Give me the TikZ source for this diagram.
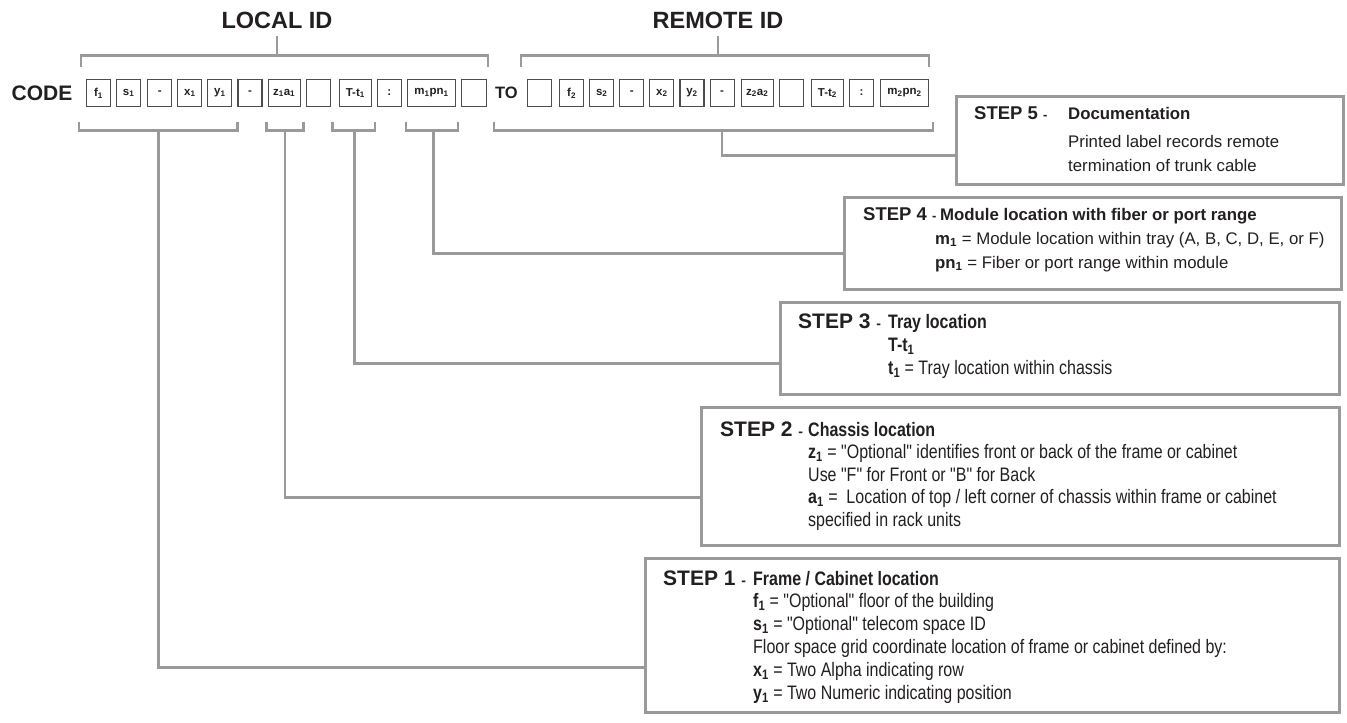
\documentclass[tikz,border=0pt]{standalone}
\usepackage{fontspec}
\setmainfont{Liberation Sans}
\newfontfamily\narrowfont{Liberation Sans}[FakeStretch=0.82]
\definecolor{ink}{HTML}{231F20}
\definecolor{lgray}{HTML}{9A9A9A}
\definecolor{dgray}{HTML}{4D4D4D}
\usepackage{tikz}
\usetikzlibrary{calc}
\usetikzlibrary{positioning}
\newcommand{\cvar}[2]{\textbf{#1\textsubscript{#2}}}

\begin{document}
\begin{tikzpicture}[
    x=1pt, y=1pt,
    every node/.style={text=ink, inner sep=0pt},
    cbox/.style={draw=dgray, line width=1.1pt, minimum width=24pt, minimum height=27pt, font=\fontsize{11.5}{12}\selectfont\bfseries},
    wbox/.style={cbox, minimum width=32pt},
    xbox/.style={cbox, minimum width=48pt},
    brk/.style={draw=lgray, line width=2.6pt},
    conn/.style={draw=lgray, line width=2.6pt},
    stepbox/.style={draw=lgray, line width=2.6pt, anchor=north west},
    idlbl/.style={font=\fontsize{23.5}{24}\selectfont\bfseries},
    steptag/.style={anchor=base west, font=\bfseries},
    bodyw/.style={anchor=base west, font=\fontsize{16.8}{19}\selectfont},
    bodyn/.style={anchor=base west, font=\narrowfont\fontsize{19.5}{20}\selectfont},
  ]
    \useasboundingbox (0,0) rectangle (1347,-723);

    \node[font=\fontsize{21}{22}\selectfont\bfseries] (code) at (42,-93) {CODE};
    \node[cbox] (f1) at (98.5,-93) {f\textsubscript{1}};
    \node[cbox, right=5pt of f1] (s1) {s\textsubscript{1}};
    \node[cbox, right=6pt of s1] (d1) {-};
    \node[cbox, right=5pt of d1] (x1) {x\textsubscript{1}};
    \node[cbox, right=5pt of x1] (y1) {y\textsubscript{1}};
    \node[cbox, right=5pt of y1] (d2) {-};
    \node[wbox, right=5pt of d2] (za1) {z\textsubscript{1}a\textsubscript{1}};
    \node[cbox, right=5pt of za1] (e1) {};
    \node[wbox, right=8pt of e1] (tt1) {T-t\textsubscript{1}};
    \node[cbox, right=5pt of tt1] (c1) {:};
    \node[xbox, right=5pt of c1] (mp1) {m\textsubscript{1}pn\textsubscript{1}};
    \node[cbox, minimum width=25pt, right=5pt of mp1] (e2) {};

    \node[font=\fontsize{16.5}{17}\selectfont\bfseries] (to) at (506.5,-93) {TO};
    \node[cbox] (e3) at (539.5,-93) {};
    \node[cbox, right=7pt of e3] (f2) {f\textsubscript{2}};
    \node[cbox, right=5pt of f2] (s2) {s\textsubscript{2}};
    \node[cbox, right=5pt of s2] (d3) {-};
    \node[cbox, right=5pt of d3] (x2) {x\textsubscript{2}};
    \node[cbox, right=5pt of x2] (y2) {y\textsubscript{2}};
    \node[cbox, right=5pt of y2] (d4) {-};
    \node[wbox, right=6pt of d4] (za2) {z\textsubscript{2}a\textsubscript{2}};
    \node[cbox, right=5pt of za2] (e4) {};
    \node[wbox, right=7pt of e4] (tt2) {T-t\textsubscript{2}};
    \node[cbox, right=5pt of tt2] (c2) {:};
    \node[xbox, right=6pt of c2] (mp2) {m\textsubscript{2}pn\textsubscript{2}};

    \node[idlbl] (lid) at (277,-20) {LOCAL ID};
    \node[idlbl] (rid) at (718,-20) {REMOTE ID};
    \draw[brk] ($(f1.north west)+(-5,11.5)$) |- ($(e2.north east)+(1,23.5)$) -- ++(0,-12);
    \draw[brk] (lid.south) ++(0,-7.5) -- ++(0,-20);
    \draw[brk] ($(e3.north west)+(-6,11.5)$) |- ($(mp2.north east)+(0,23.5)$) -- ++(0,-12);
    \draw[brk] (rid.south) ++(0,-7.5) -- ++(0,-20);

    \draw[brk] ($(f1.south west)+(-7,-14.5)$) |- ($(y1.south east)+(5,-23.5)$) -- ++(0,9);
    \draw[brk] ($(za1.south west)+(-1,-14.5)$) |- ($(za1.south east)+(3,-23.5)$) -- ++(0,9);
    \draw[brk] ($(tt1.south west)+(-6,-14.5)$) |- ($(tt1.south east)+(3,-23.5)$) -- ++(0,9);
    \draw[brk] ($(mp1.south west)+(-1,-14.5)$) |- ($(mp1.south east)+(2,-23.5)$) -- ++(0,9);
    \draw[brk] ($(to.west |- e3.south)+(-1,-14.5)$) |- ($(mp2.south east)+(4,-23.5)$) -- ++(0,9);
    \coordinate (st1) at ($(f1.south west)!.5!(y1.south east)+(-1,-23.5)$);
    \coordinate (st2) at ($(za1.south west)!.5!(za1.south east)+(1,-23.5)$);
    \coordinate (st3) at ($(tt1.south west)!.5!(tt1.south east)+(-1,-23.5)$);
    \coordinate (st4) at ($(mp1.south west)!.5!(mp1.south east)+(2,-23.5)$);
    \coordinate (st5) at ($(to.west |- e3.south)+(227,-23.5)$);

    \node[stepbox, minimum width=387pt, minimum height=88pt] (step5) at (955,-95) {};
    \node[stepbox, minimum width=497pt, minimum height=92pt] (step4) at (843,-196) {};
    \node[stepbox, minimum width=559pt, minimum height=92pt] (step3) at (779,-301) {};
    \node[stepbox, minimum width=638pt, minimum height=138pt] (step2) at (700,-406) {};
    \node[stepbox, minimum width=694pt, minimum height=154pt] (step1) at (644,-557) {};

    \draw[conn] (st5) |- ([yshift=-15pt]step5.west);
    \draw[conn] (st4) |- ([yshift=-10pt]step4.west);
    \draw[conn] (st3) |- ([yshift=-15pt]step3.west);
    \draw[conn] (st2) |- ([yshift=-21pt]step2.west);
    \draw[conn] (st1) |- ([yshift=-32pt]step1.west);

    \node[steptag] (t5) at ($(step5.north west)+(19,-24)$) {\fontsize{18.5}{19}\selectfont STEP 5 \fontsize{13}{14}\selectfont -};
    \node[steptag, font=\fontsize{16.8}{19}\selectfont\bfseries] (h5) at ($(step5.north west)+(113,-24)$) {Documentation};
    \foreach \ln [count=\i] in {Printed label records remote, termination of trunk cable}
    \node[bodyw] (b5-\i) at ($(step5.north west)+(113,-29-23.5*\i)$) {\ln};

    \node[steptag] (t4) at ($(step4.north west)+(20,-24)$) {\fontsize{18.5}{19}\selectfont STEP 4 \fontsize{13}{14}\selectfont -};
    \node[steptag, font=\fontsize{16.8}{19}\selectfont\bfseries] (h4) at ($(step4.north west)+(97,-24)$) {Module location with fiber or port range};
    \foreach \ln [count=\i] in {{\cvar{m}{1} = Module location within tray (A, B, C, D, E, or F)}, {\cvar{pn}{1} = Fiber or port range within module}}
    \node[bodyw] (b4-\i) at ($(step4.north west)+(92,-24-24*\i)$) {\ln};

    \node[steptag] (t3) at ($(step3.north west)+(19,-27)$) {\fontsize{21}{22}\selectfont STEP 3 \fontsize{14}{15}\selectfont -};
    \node[steptag, font=\narrowfont\fontsize{19.5}{20}\selectfont\bfseries] (h3) at ($(step3.north west)+(109,-27)$) {Tray location};
    \foreach \ln [count=\i] in {{\cvar{T-t}{1}}, {\cvar{t}{1} = Tray location within chassis}}
    \node[bodyn] (b3-\i) at ($(step3.north west)+(109,-27-23*\i)$) {\ln};

    \node[steptag] (t2) at ($(step2.north west)+(20,-30)$) {\fontsize{21}{22}\selectfont STEP 2 \fontsize{14}{15}\selectfont -};
    \node[steptag, font=\narrowfont\fontsize{19.5}{20}\selectfont\bfseries] (h2) at ($(step2.north west)+(108,-30)$) {Chassis location};
    \foreach \ln [count=\i] in {{\cvar{z}{1} = "Optional" identifies front or back of the frame or cabinet}, {Use "F" for Front or "B" for Back}, {\cvar{a}{1} =\ \ Location of top / left corner of chassis within frame or cabinet}, {specified in rack units}}
    \node[bodyn] (b2-\i) at ($(step2.north west)+(108,-30-22.5*\i)$) {\ln};

    \node[steptag] (t1) at ($(step1.north west)+(19,-28)$) {\fontsize{21}{22}\selectfont STEP 1 \fontsize{14}{15}\selectfont -};
    \node[steptag, font=\narrowfont\fontsize{19.5}{20}\selectfont\bfseries] (h1) at ($(step1.north west)+(109,-28)$) {Frame / Cabinet location};
    \foreach \ln [count=\i] in {{\cvar{f}{1} = "Optional" floor of the building}, {\cvar{s}{1} = "Optional" telecom space ID}, {Floor space grid coordinate location of frame or cabinet defined by:}, {\cvar{x}{1} = Two Alpha indicating row}, {\cvar{y}{1} = Two Numeric indicating position}}
    \node[bodyn] (b1-\i) at ($(step1.north west)+(109,-28-22.8*\i)$) {\ln};
\end{tikzpicture}
\end{document}
